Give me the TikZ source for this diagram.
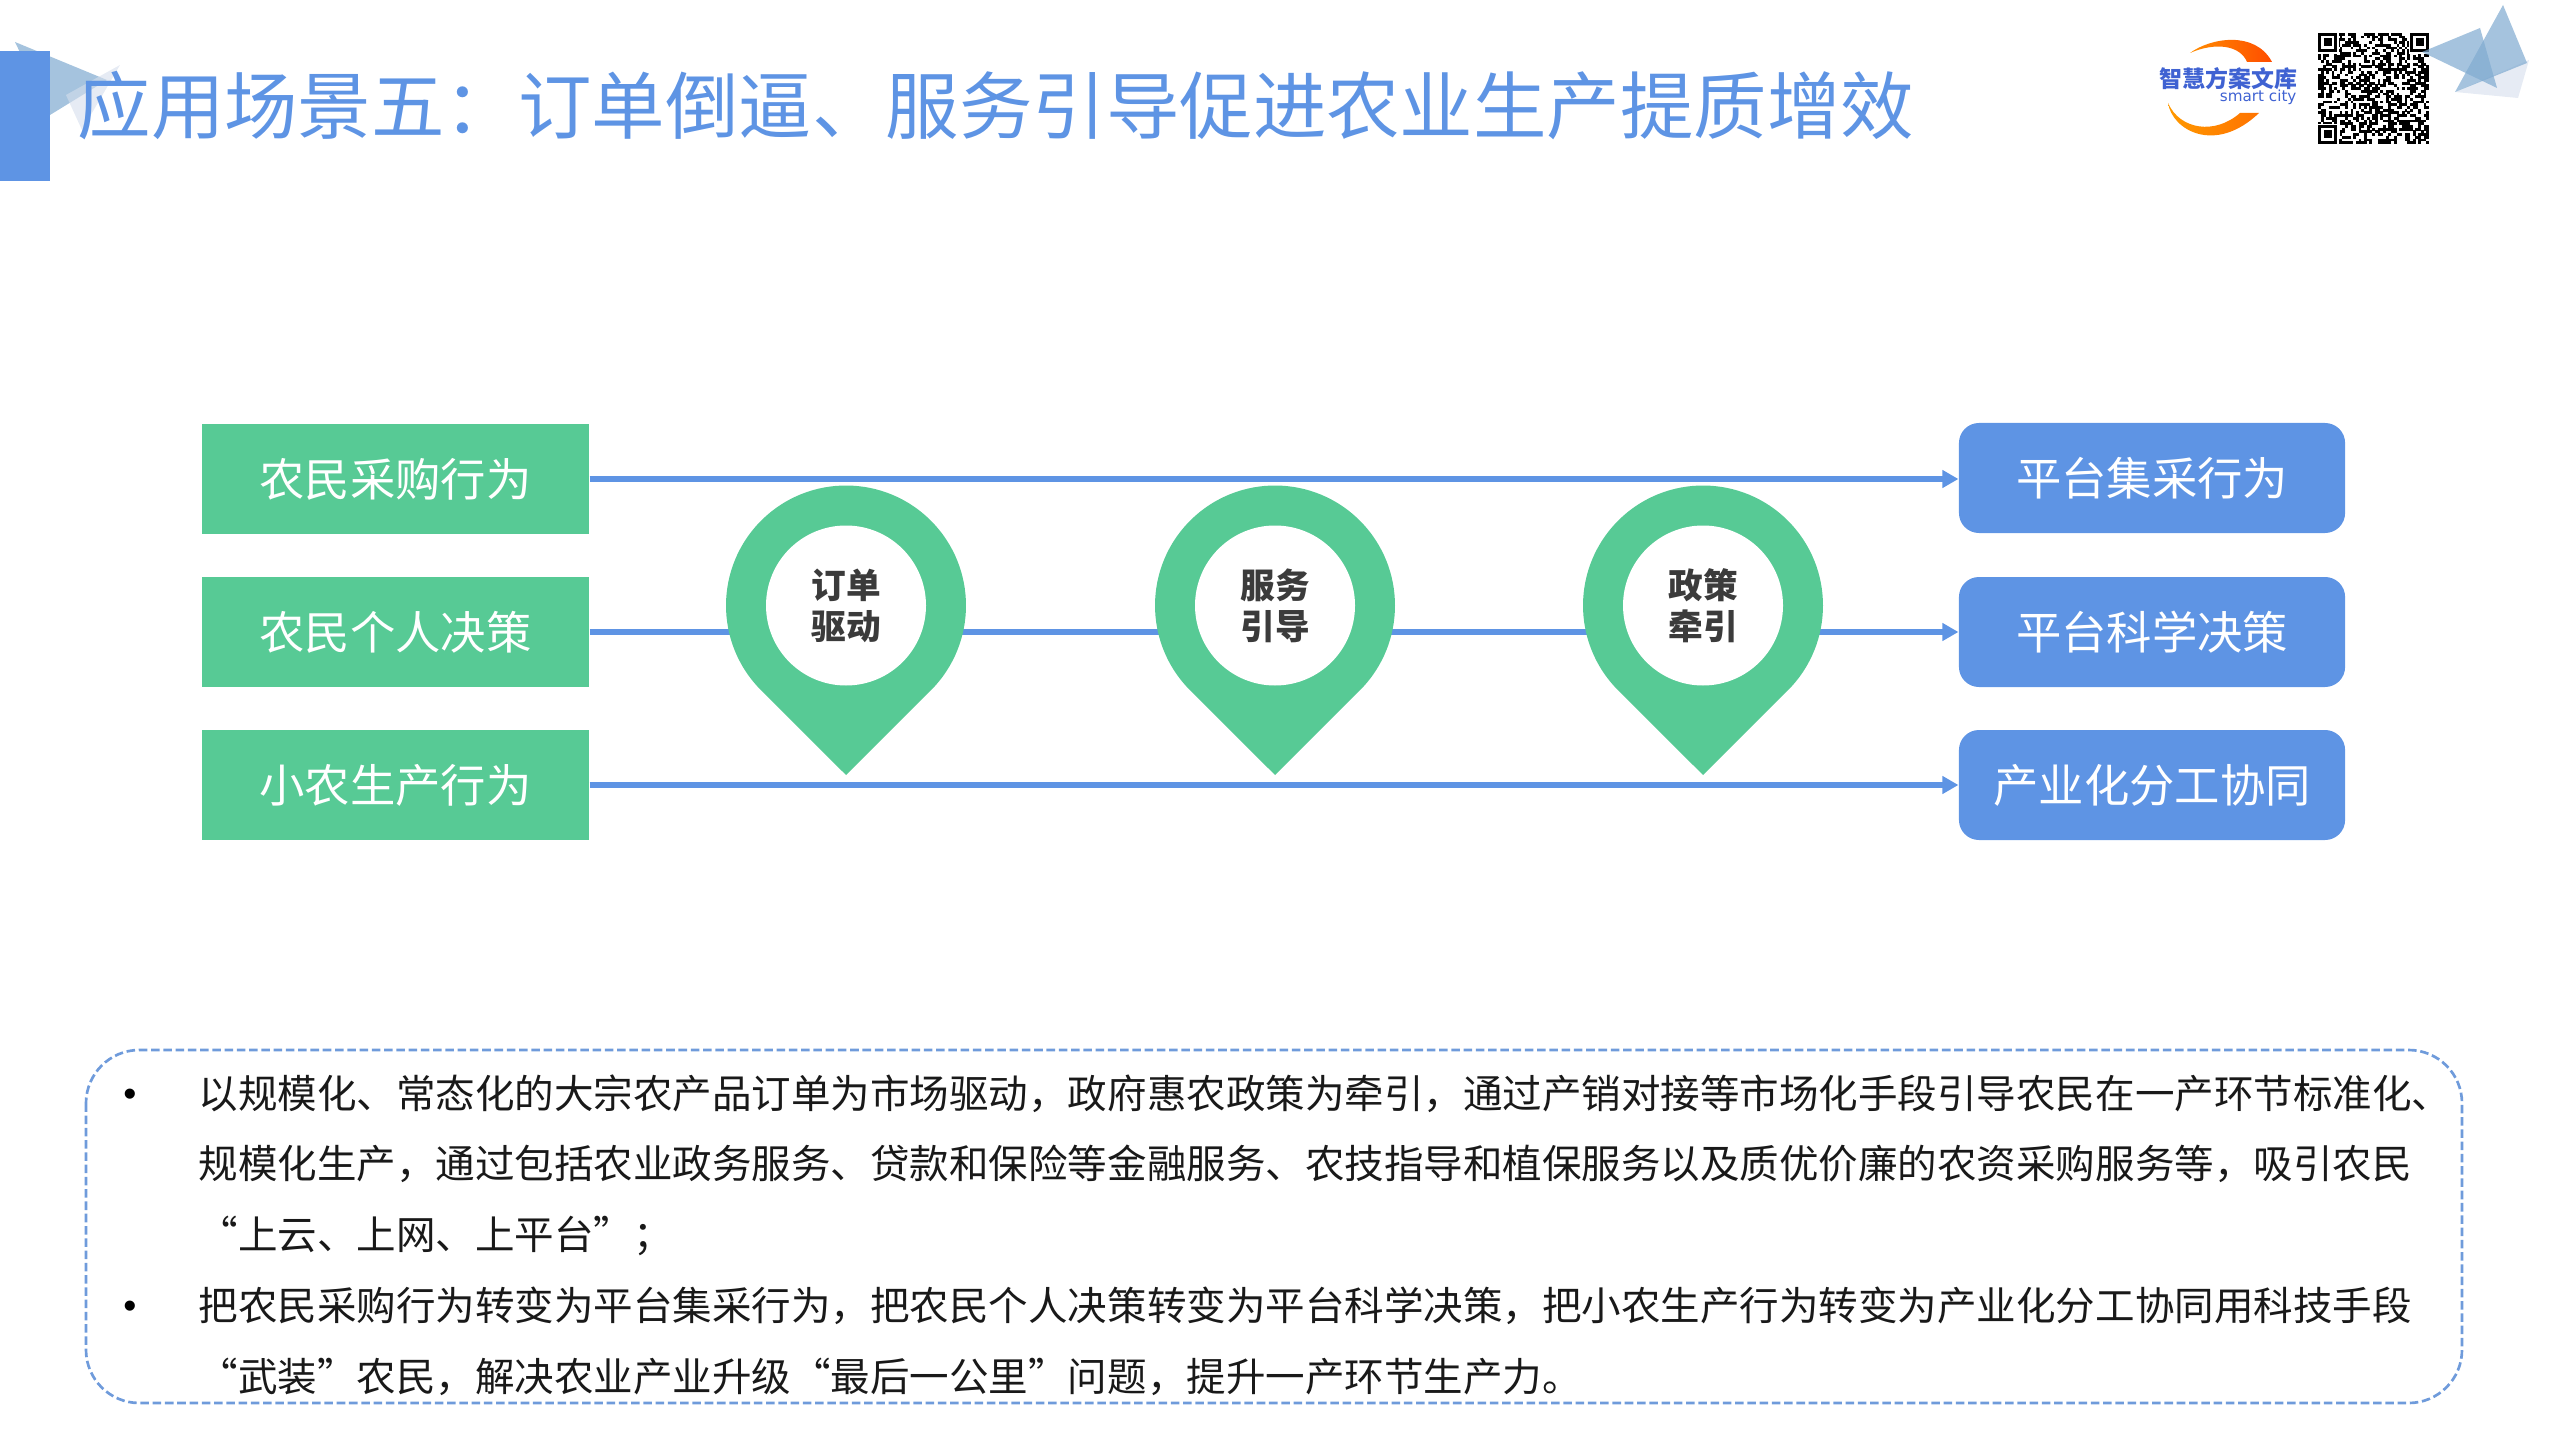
\documentclass[tikz,border=0pt]{standalone}
\usepackage{fontspec}
\setmainfont{Noto Sans CJK SC}
\newfontfamily\latinfont{Liberation Sans}
\newfontfamily\logofont{DejaVu Sans}
\usetikzlibrary{arrows.meta,positioning}
\newcommand{\fwcomma}{\char"FF0C\relax}
\newcommand{\fwcolon}{\char"FF1A\relax}
\newcommand{\fwsemi}{\char"FF1B\relax}
\definecolor{mainblue}{HTML}{5E94E4}
\definecolor{maingreen}{HTML}{57CA95}
\definecolor{decoblue}{HTML}{7FAAD0}
\definecolor{decolight}{HTML}{D5DEEC}
\definecolor{dashblue}{HTML}{6F9BDB}
\definecolor{logoblue}{HTML}{3F62D2}
\definecolor{labelgray}{HTML}{3B3B3B}
\tikzset{
  greenbox/.style={fill=maingreen,text=white,minimum width=145.1pt,minimum height=41.25pt,inner sep=0pt,font=\fontsize{17}{20}\selectfont},
  bluebox/.style={fill=mainblue,text=white,rounded corners=7.5pt,minimum width=144.8pt,minimum height=41.25pt,inner sep=0pt,font=\fontsize{17}{20}\selectfont},
  flowline/.style={draw=mainblue,line width=2.1pt,-{Triangle[length=6pt,width=6.4pt]}},
  pinbody/.style={fill=maingreen},
  pinhole/.style={circle,fill=white,minimum size=60pt,inner sep=0pt,align=center,text=labelgray,font=\fontsize{13}{15.4}\selectfont\bfseries},
  tri/.style={fill=decoblue,fill opacity=.7},
  trilight/.style={fill=decolight,fill opacity=.6},
  dashbox/.style={draw=dashblue,line width=1pt,dash pattern=on 3.2pt off 1.4pt,rounded corners=20pt},
  bodytext/.style={anchor=west,inner sep=0pt,align=left,text=black!90,font=\fontsize{14.82}{26.53}\selectfont},
  bulletmark/.style={inner sep=0pt,font=\latinfont\fontsize{14}{16}\selectfont},
  qrmod/.style={fill=black}
}
\begin{document}
\begin{tikzpicture}[x=0.375pt,y=-0.375pt]
\useasboundingbox (0,0) rectangle (2560,1440);
% top-left decoration
\fill[tri,fill=decoblue] (15,42) -- (107,80) -- (50,115) -- cycle;
\fill[trilight] (120,65) -- (66,95) -- (82,130) -- cycle;
\fill[mainblue] (0,51) rectangle (50,181);
\node[anchor=west,inner sep=0pt,text=mainblue,font=\fontsize{27.55}{32}\selectfont] (title) at (77,106) {应用场景五\fwcolon 订单倒逼、服务引导促进农业生产提质增效};
% logo
\shade[left color=orange!90!yellow,right color=orange!60!red] (2190,53) .. controls (2210,38) and (2255,30) .. (2272,62) -- (2247,62) .. controls (2240,45) and (2215,42) .. (2190,53) -- cycle;
\shade[left color=orange!80!yellow,right color=orange!90!red] (2168,103) .. controls (2172,130) and (2215,155) .. (2259,113) -- (2240,113) .. controls (2215,135) and (2180,130) .. (2168,103) -- cycle;
\node[inner sep=0pt,text=logoblue,font=\fontsize{8.6}{10}\selectfont\bfseries] (logocn) at (2228.5,79) {智慧方案文库};
\node[inner sep=0pt,anchor=east,text=logoblue,font=\logofont\fontsize{5.7}{6}\selectfont] (logoen) at (2297,97) {smart city};
% QR code
\pgfmathsetseed{12}
\foreach \i in {0,...,40}{\foreach \j in {0,...,40}{
  \pgfmathrandominteger{\qrbit}{0}{1}
  \ifnum\qrbit=1
    \fill[qrmod] ({2318+\i*2.707},{33+\j*2.707}) rectangle +(2.8,2.8);
  \fi
}}
\foreach \cx/\cy in {2318/33,2410/33,2318/125}{
  \fill[white] (\cx-1,\cy-1) ++(0,0) rectangle +(22,22);
  \fill[black] (\cx,\cy) rectangle +(19,19);
  \fill[white] (\cx+3,\cy+3) rectangle +(13,13);
  \fill[black] (\cx+5.5,\cy+5.5) rectangle +(8,8);
}
% top-right decoration
\fill[trilight] (2529,60) -- (2518,98) -- (2455,92) -- cycle;
\fill[tri] (2503,5) -- (2455,92) -- (2527,63) -- cycle;
\fill[tri] (2422,52) -- (2480,28) -- (2497,88) -- cycle;
% boxes
\node[greenbox] (a1) at (395.5,479) {农民采购行为};
\node[greenbox] (a2) at (395.5,632) {农民个人决策};
\node[greenbox] (a3) at (395.5,785) {小农生产行为};
\node[bluebox] (b1) at (2152,478) {平台集采行为};
\node[bluebox] (b2) at (2152,632) {平台科学决策};
\node[bluebox] (b3) at (2152,785) {产业化分工协同};
% connectors
\draw[flowline] (a1.east) -- (a1.east -| b1.west);
\draw[flowline] (a2) -- (b2);
\draw[flowline] (a3) -- (b3);
% pins
\foreach \px/\nm/\txt in {846/p1/{订单\\驱动},1275/p2/{服务\\引导},1703/p3/{政策\\牵引}}{
  \fill[pinbody] (\px,775) -- (\px-85.3,689.9) arc[start angle=135.3,end angle=404.7,radius=120] -- cycle;
  \node[pinhole] (\nm) at (\px,605.5) {\txt};
}
% text panel
\draw[dashbox] (86,1050) rectangle (2462,1403);
\node[bulletmark] (bu1) at (130,1098) {•};
\node[bulletmark] (bu2) at (130,1310) {•};
\node[bodytext] (body) at (198,1235) {以规模化、常态化的大宗农产品订单为市场驱动\fwcomma 政府惠农政策为牵引\fwcomma 通过产销对接等市场化手段引导农民在一产环节标准化、\\
规模化生产\fwcomma 通过包括农业政务服务、贷款和保险等金融服务、农技指导和植保服务以及质优价廉的农资采购服务等\fwcomma 吸引农民\\
“上云、上网、上平台”\fwsemi\\
把农民采购行为转变为平台集采行为\fwcomma 把农民个人决策转变为平台科学决策\fwcomma 把小农生产行为转变为产业化分工协同用科技手段\\
“武装”农民\fwcomma 解决农业产业升级“最后一公里”问题\fwcomma 提升一产环节生产力。};
\end{tikzpicture}
\end{document}
